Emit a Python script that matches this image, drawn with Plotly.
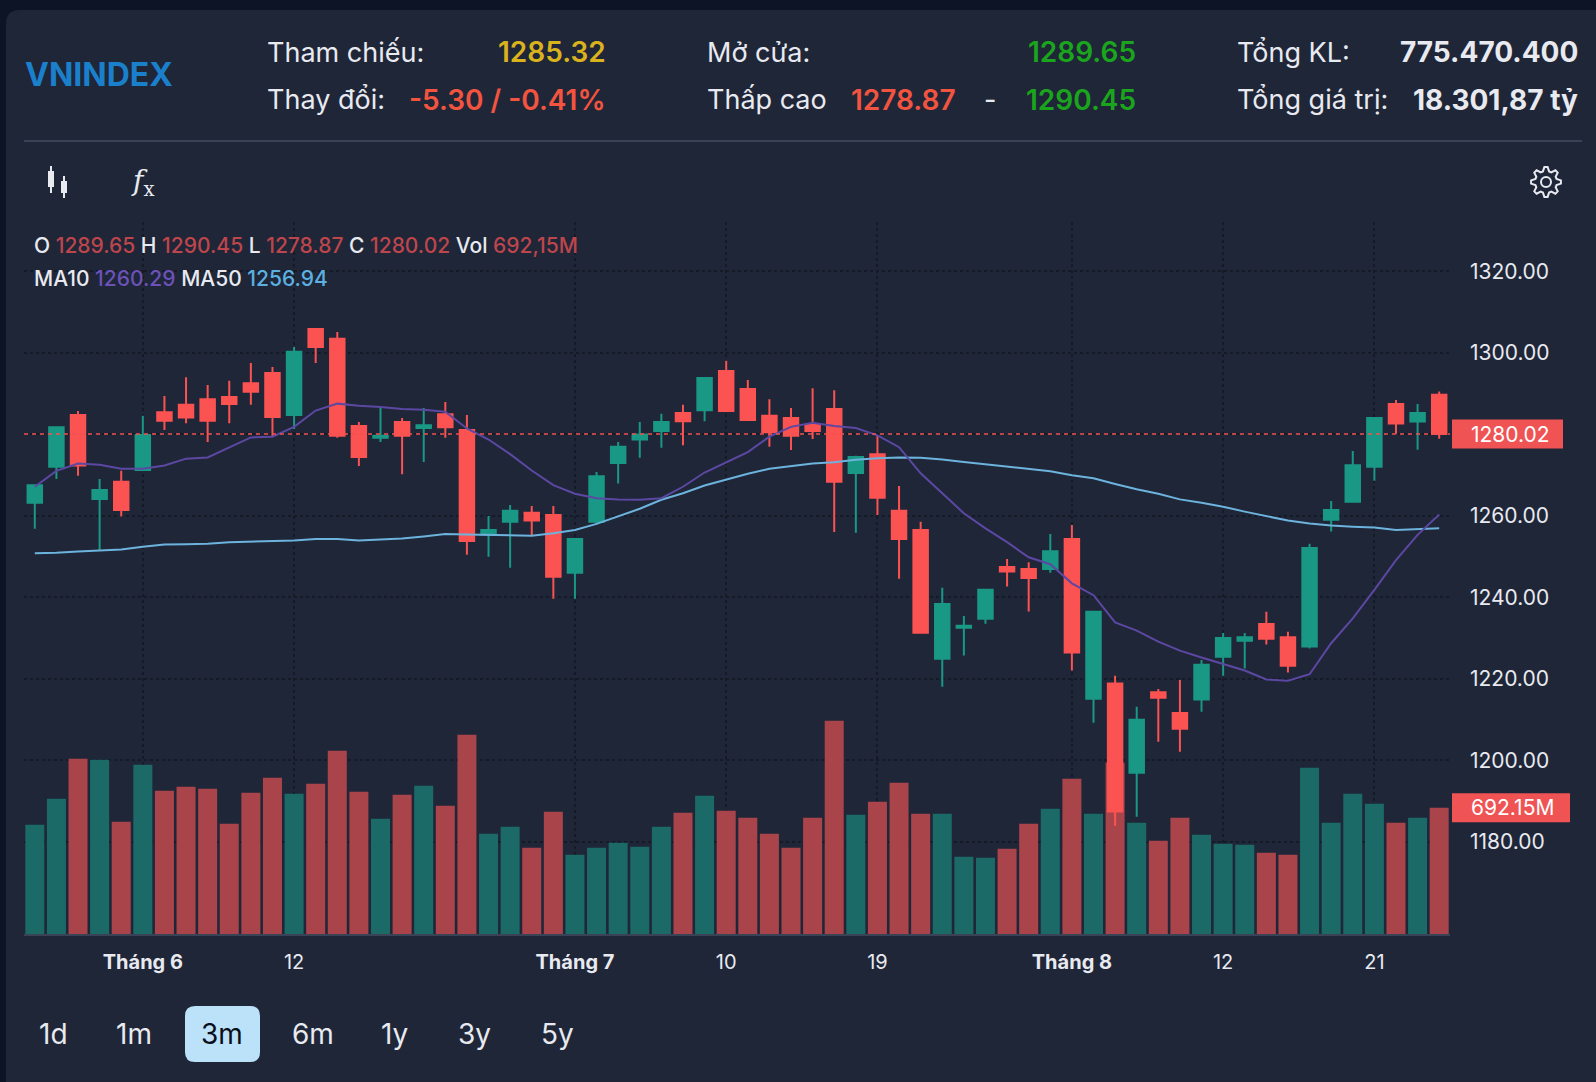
import math
import plotly.graph_objects as go

# ---- data ----
dates = [
    "2024-05-27", "2024-05-28", "2024-05-29", "2024-05-30", "2024-05-31",
    "2024-06-03", "2024-06-04", "2024-06-05", "2024-06-06", "2024-06-07",
    "2024-06-10", "2024-06-11", "2024-06-12", "2024-06-13", "2024-06-14",
    "2024-06-17", "2024-06-18", "2024-06-19", "2024-06-20", "2024-06-21",
    "2024-06-24", "2024-06-25", "2024-06-26", "2024-06-27", "2024-06-28",
    "2024-07-01", "2024-07-02", "2024-07-03", "2024-07-04", "2024-07-05",
    "2024-07-08", "2024-07-09", "2024-07-10", "2024-07-11", "2024-07-12",
    "2024-07-15", "2024-07-16", "2024-07-17", "2024-07-18", "2024-07-19",
    "2024-07-22", "2024-07-23", "2024-07-24", "2024-07-25", "2024-07-26",
    "2024-07-29", "2024-07-30", "2024-07-31", "2024-08-01", "2024-08-02",
    "2024-08-05", "2024-08-06", "2024-08-07", "2024-08-08", "2024-08-09",
    "2024-08-12", "2024-08-13", "2024-08-14", "2024-08-15", "2024-08-16",
    "2024-08-19", "2024-08-20", "2024-08-21", "2024-08-22", "2024-08-23",
    "2024-08-26",
]

opens = [1263.2, 1272.0, 1284.7, 1264.1, 1268.3, 1271.2, 1285.4, 1287.2, 1288.6, 1289.1,
         1292.5, 1295.0, 1284.7, 1305.8, 1303.4, 1282.0, 1279.1, 1283.0, 1281.5, 1284.9,
         1281.0, 1255.4, 1258.5, 1260.7, 1260.2, 1246.0, 1258.5, 1272.9, 1278.7, 1280.8,
         1285.2, 1285.9, 1295.5, 1291.1, 1284.5, 1284.0, 1282.3, 1286.2, 1270.5, 1275.1,
         1261.2, 1256.5, 1224.9, 1232.5, 1234.7, 1247.4, 1246.9, 1246.9, 1254.3, 1215.1,
         1218.8, 1196.9, 1216.7, 1211.6, 1214.9, 1225.4, 1229.3, 1233.4, 1230.2, 1227.9,
         1259.0, 1263.4, 1272.0, 1287.4, 1283.1, 1289.65]
highs = [1267.6, 1281.8, 1285.7, 1269.0, 1271.0, 1284.5, 1289.4, 1294.0, 1292.1, 1293.1,
         1297.5, 1296.5, 1301.4, 1305.9, 1305.1, 1283.0, 1286.4, 1284.0, 1286.4, 1287.9,
         1284.7, 1259.9, 1262.6, 1262.4, 1262.4, 1254.3, 1270.7, 1278.1, 1283.0, 1285.0,
         1287.2, 1294.0, 1298.0, 1293.3, 1288.6, 1286.4, 1291.3, 1290.8, 1274.7, 1279.7,
         1267.3, 1258.5, 1242.3, 1235.4, 1241.8, 1249.4, 1248.6, 1255.5, 1257.7, 1236.4,
         1220.7, 1213.1, 1217.5, 1219.7, 1224.6, 1231.2, 1231.2, 1236.4, 1231.5, 1253.1,
         1263.6, 1275.9, 1284.2, 1288.4, 1287.4, 1290.45]
lows = [1256.8, 1269.0, 1269.8, 1251.4, 1259.8, 1271.0, 1281.0, 1282.7, 1278.1, 1282.7,
        1287.2, 1279.3, 1281.3, 1297.5, 1279.1, 1272.2, 1278.1, 1270.2, 1273.2, 1279.1,
        1250.4, 1249.9, 1247.2, 1255.1, 1239.6, 1239.6, 1257.9, 1267.9, 1274.2, 1276.7,
        1277.3, 1283.2, 1285.6, 1283.4, 1276.9, 1276.1, 1278.8, 1256.0, 1255.8, 1260.2,
        1244.5, 1231.2, 1218.0, 1225.7, 1233.5, 1242.6, 1236.5, 1246.0, 1222.0, 1209.2,
        1183.9, 1186.1, 1204.5, 1202.1, 1211.9, 1220.7, 1222.5, 1228.4, 1221.5, 1227.4,
        1256.1, 1263.4, 1268.6, 1280.1, 1276.2, 1278.87]
closes = [1267.5, 1281.7, 1272.3, 1266.3, 1261.4, 1279.8, 1283.3, 1284.1, 1283.3, 1287.4,
          1290.4, 1284.2, 1300.2, 1301.4, 1279.6, 1274.4, 1279.6, 1279.6, 1282.2, 1281.7,
          1253.8, 1256.5, 1261.2, 1258.8, 1245.0, 1254.3, 1269.7, 1276.9, 1279.9, 1283.0,
          1283.2, 1293.8, 1285.7, 1283.5, 1280.5, 1279.6, 1280.8, 1268.3, 1274.4, 1264.4,
          1254.3, 1231.3, 1238.3, 1233.0, 1241.8, 1246.3, 1244.7, 1251.3, 1226.4, 1236.4,
          1187.4, 1209.9, 1215.3, 1207.7, 1223.4, 1230.0, 1230.2, 1229.8, 1223.2, 1252.1,
          1261.4, 1272.4, 1284.0, 1282.6, 1285.2, 1280.02]
# volume, millions of shares
volumes = [599.6, 742.2, 961.5, 956.0, 616.0, 928.6, 786.0, 808.0, 797.0, 605.1,
           775.1, 857.3, 769.6, 824.4, 1005.4, 780.6, 632.5, 764.1, 813.5, 703.8,
           1093.1, 550.2, 588.6, 473.5, 670.9, 435.1, 473.5, 500.9, 478.9, 588.6,
           665.4, 758.6, 676.4, 638.0, 550.2, 473.5, 638.0, 1169.9, 654.4, 725.7,
           829.9, 659.9, 659.9, 424.1, 418.6, 468.0, 605.1, 687.3, 851.8, 659.9,
           939.6, 610.6, 511.8, 638.0, 544.7, 495.4, 489.9, 446.0, 435.1, 912.2,
           610.6, 769.6, 714.7, 610.6, 638.0, 692.15]
ma10 = [1267.1, 1271.0, 1272.8, 1272.5, 1271.5, 1271.5, 1272.3, 1274.0, 1274.3, 1276.8,
        1279.2, 1279.4, 1281.8, 1285.8, 1287.5, 1287.0, 1286.7, 1286.2, 1286.0, 1285.5,
        1281.4, 1278.7, 1275.1, 1271.1, 1267.5, 1265.4, 1264.3, 1264.0, 1263.9, 1264.3,
        1267.1, 1270.6, 1273.1, 1275.6, 1279.4, 1281.8, 1282.8, 1282.0, 1281.5, 1279.7,
        1276.8, 1270.4, 1265.5, 1260.6, 1256.9, 1253.5, 1249.8, 1248.1, 1243.4, 1240.5,
        1233.8, 1231.8, 1229.1, 1226.9, 1225.2, 1223.6, 1222.0, 1219.8, 1219.5, 1221.1,
        1228.7, 1234.8, 1241.8, 1249.1, 1255.3, 1260.29]
ma50 = [1250.8, 1250.9, 1251.2, 1251.4, 1251.7, 1252.4, 1252.9, 1253.0, 1253.1, 1253.5,
        1253.6, 1253.7, 1253.9, 1254.3, 1254.3, 1253.9, 1254.1, 1254.4, 1254.9, 1255.5,
        1255.4, 1255.3, 1255.3, 1255.1, 1255.7, 1256.5, 1258.0, 1259.9, 1261.7, 1263.9,
        1265.5, 1267.4, 1268.9, 1270.3, 1271.5, 1272.2, 1272.8, 1273.1, 1273.7, 1274.1,
        1274.3, 1274.2, 1273.8, 1273.2, 1272.6, 1272.0, 1271.4, 1270.9, 1269.9, 1269.2,
        1267.8, 1266.5, 1265.4, 1264.0, 1263.2, 1262.2, 1261.0, 1259.9, 1258.8, 1258.1,
        1257.6, 1257.3, 1257.1, 1256.5, 1256.7, 1256.94]

tick_dates = ["2024-06-03", "2024-06-12", "2024-07-01", "2024-07-10",
              "2024-07-19", "2024-08-01", "2024-08-12", "2024-08-21"]
tick_text = ["<b>Tháng 6</b>", "12", "<b>Tháng 7</b>", "10",
             "19", "<b>Tháng 8</b>", "12", "21"]
price_ticks = [1180, 1200, 1220, 1240, 1260, 1280, 1300, 1320]

# header
ticker = "VNINDEX"
ref_price = "1285.32"
change_txt = "-5.30 / -0.41%"
open_price = "1289.65"
day_low = "1278.87"
day_high = "1290.45"
total_vol = "775.470.400"
total_val = "18.301,87 tỷ"
periods = ["1d", "1m", "3m", "6m", "1y", "3y", "5y"]
period_x = [53, 134, 222, 313, 395, 475, 557]
active_period = "3m"

# ---- colours ----
BG_OUT = "#0d1426"
BG = "#1f2638"
UP = "#1a9886"
DOWN = "#fb5252"
UP_VOL = "#1b6a68"
DOWN_VOL = "#a9444b"
TXT = "#e8eaf0"
GRID = "#151a27"

W, H = 1596, 1082
L, R, T, B = 24, 1450, 222, 934
PRICE_RANGE = [1157.35, 1332.07]
VOL_TOP = 3905


def px(x):
    return (x - L) / (R - L)


def py(y):
    return (B - y) / (B - T)


def rrect(x0, y0, x1, y1, r):
    """rounded rect path, pixel coords -> paper coords"""
    pts = [("M", x0 + r, y0), ("L", x1 - r, y0), ("Q", x1, y0, x1, y0 + r),
           ("L", x1, y1 - r), ("Q", x1, y1, x1 - r, y1), ("L", x0 + r, y1),
           ("Q", x0, y1, x0, y1 - r), ("L", x0, y0 + r), ("Q", x0, y0, x0 + r, y0)]
    s = ""
    for p in pts:
        if p[0] == "Q":
            s += "Q%.5f,%.5f %.5f,%.5f " % (px(p[1]), py(p[2]), px(p[3]), py(p[4]))
        else:
            s += "%s%.5f,%.5f " % (p[0], px(p[1]), py(p[2]))
    return s + "Z"


def gear(cx, cy, r_out, r_in, teeth):
    s = ""
    n = teeth * 2
    d = math.pi / n * 0.55
    for k in range(n):
        a = math.pi * k / teeth
        r = r_out if k % 2 == 0 else r_in
        for aa in (a - d, a + d):
            x = cx + r * math.cos(aa)
            y = cy + r * math.sin(aa)
            s += ("M" if s == "" else "L") + "%.5f,%.5f " % (px(x), py(y))
    return s + "Z"


vol_colors = [UP_VOL if c >= o else DOWN_VOL for o, c in zip(opens, closes)]

fig = go.Figure()

fig.add_trace(go.Bar(x=dates, y=volumes, marker=dict(color=vol_colors, line=dict(width=0)),
                     yaxis="y", showlegend=False, hoverinfo="skip"))
fig.add_trace(go.Candlestick(
    x=dates, open=opens, high=highs, low=lows, close=closes, yaxis="y2",
    increasing=dict(line=dict(color=UP, width=2), fillcolor=UP),
    decreasing=dict(line=dict(color=DOWN, width=2), fillcolor=DOWN),
    whiskerwidth=0, showlegend=False, hoverinfo="skip"))
fig.add_trace(go.Scatter(x=dates, y=ma50, mode="lines", yaxis="y2",
                         line=dict(color="#6cb3dd", width=2), showlegend=False, hoverinfo="skip"))
fig.add_trace(go.Scatter(x=dates, y=ma10, mode="lines", yaxis="y2",
                         line=dict(color="#5c48a2", width=2), showlegend=False, hoverinfo="skip"))

last_close = closes[-1]
last_vol = volumes[-1]
ph = 14.5 / ((B - T) / (PRICE_RANGE[1] - PRICE_RANGE[0]))
vh = 14.5 / ((B - T) / VOL_TOP)

shapes = [
    dict(type="path", path=rrect(6, 10, 1640, 1120, 14), xref="paper", yref="paper",
         fillcolor=BG, line=dict(width=0), layer="below"),
    dict(type="line", xref="paper", yref="paper", x0=px(24), x1=px(1582), y0=py(141), y1=py(141),
         line=dict(color="#394356", width=2)),
    dict(type="line", xref="paper", yref="y2", x0=0, x1=1, y0=last_close, y1=last_close,
         line=dict(color="#f25252", width=1.5, dash="4px,4px")),
    dict(type="rect", xref="paper", yref="y2", x0=px(1452), x1=px(1563),
         y0=last_close - ph, y1=last_close + ph, fillcolor="#f05353", line=dict(width=0)),
    dict(type="rect", xref="paper", yref="y", x0=px(1452), x1=px(1570),
         y0=last_vol - vh, y1=last_vol + vh, fillcolor="#f05353", line=dict(width=0)),
    # candle icon
    dict(type="line", xref="paper", yref="paper", x0=px(51), x1=px(51), y0=py(166), y1=py(193),
         line=dict(color=TXT, width=2)),
    dict(type="rect", xref="paper", yref="paper", x0=px(48), x1=px(54), y0=py(171), y1=py(187),
         fillcolor=TXT, line=dict(width=0)),
    dict(type="line", xref="paper", yref="paper", x0=px(64), x1=px(64), y0=py(176), y1=py(198),
         line=dict(color=TXT, width=2)),
    dict(type="rect", xref="paper", yref="paper", x0=px(61), x1=px(67), y0=py(181), y1=py(193),
         fillcolor=TXT, line=dict(width=0)),
    # gear
    dict(type="path", path=gear(1546, 182, 15, 11, 8), xref="paper", yref="paper",
         line=dict(color=TXT, width=2)),
    dict(type="circle", xref="paper", yref="paper", x0=px(1541), x1=px(1551), y0=py(187), y1=py(177),
         line=dict(color=TXT, width=2)),
    # active period button
    dict(type="path", path=rrect(185, 1006, 260, 1062, 10), xref="paper", yref="paper",
         fillcolor="#bce2fa", line=dict(width=0)),
]

F = "Inter, Roboto, sans-serif"


def ann(x, y, text, size, color=TXT, anchor="left", weight=None, family=F):
    font = dict(family=family, size=size, color=color)
    if weight:
        font["weight"] = weight
    return dict(x=px(x), y=py(y), xref="paper", yref="paper", text=text, showarrow=False,
                xanchor=anchor, yanchor="middle", font=font)


RED_H = "#f2543f"
GREEN_H = "#1ba51d"
annotations = [
    ann(23, 75, "<b>%s</b>" % ticker, 32, "#1b80cc"),
    ann(265, 52, "Tham chiếu:", 27),
    ann(608, 52, ref_price, 28, "#d9b21d", "right", 600),
    ann(265, 100, "Thay đổi:", 27),
    ann(608, 100, change_txt, 28, RED_H, "right", 600),
    ann(705, 52, "Mở cửa:", 27),
    ann(1138, 52, open_price, 28, GREEN_H, "right", 600),
    ann(705, 100, "Thấp cao", 27),
    ann(958, 100, day_low, 28, RED_H, "right", 600),
    ann(990, 100, "-", 27, TXT, "center"),
    ann(1138, 100, day_high, 28, GREEN_H, "right", 600),
    ann(1235, 52, "Tổng KL:", 27),
    ann(1580, 52, total_vol, 28, TXT, "right", 700),
    ann(1235, 100, "Tổng giá trị:", 27),
    ann(1580, 100, total_val, 28, TXT, "right", 700),
    ann(142, 182, "<i>f</i><sub>x</sub>", 28, TXT, "center", family="DejaVu Serif"),
]

vc = "#bd454c"
legend1 = ("O <span style='color:%s'>%.2f</span> H <span style='color:%s'>%.2f</span> "
           "L <span style='color:%s'>%.2f</span> C <span style='color:%s'>%.2f</span> "
           "Vol <span style='color:%s'>%s</span>") % (
    vc, opens[-1], vc, highs[-1], vc, lows[-1], vc, closes[-1], vc,
    ("%.2fM" % volumes[-1]).replace(".", ","))
legend2 = "MA10 <span style='color:#6b52b8'>%.2f</span> MA50 <span style='color:#5cb0e0'>%.2f</span>" % (
    ma10[-1], ma50[-1])
annotations += [ann(32, 246, legend1, 21, weight=500), ann(32, 278, legend2, 21, weight=500)]

annotations.append(dict(x=px(1469), y=last_close, xref="paper", yref="y2", text="%.2f" % last_close,
                        showarrow=False, xanchor="left", yanchor="middle",
                        font=dict(family=F, size=21, color="#ffffff")))
annotations.append(dict(x=px(1469), y=last_vol, xref="paper", yref="y", text="%.2fM" % last_vol,
                        showarrow=False, xanchor="left", yanchor="middle",
                        font=dict(family=F, size=21, color="#ffffff")))

for p, x in zip(periods, period_x):
    annotations.append(ann(x, 1034, p, 28, "#0b0f1a" if p == active_period else TXT, "center"))

fig.update_layout(
    width=W, height=H, autosize=False,
    margin=dict(l=L, r=W - R, t=T, b=H - B, pad=0),
    paper_bgcolor=BG_OUT, plot_bgcolor="rgba(0,0,0,0)",
    font=dict(family=F, color=TXT),
    hovermode=False, dragmode=False, showlegend=False,
    bargap=0.12, boxgap=0.33, boxgroupgap=0,
    xaxis=dict(type="category", range=[-0.5, len(dates) - 0.5],
               tickmode="array", tickvals=tick_dates, ticktext=tick_text,
               showgrid=True, gridcolor=GRID, gridwidth=2, griddash="3px,3px",
               showline=True, linecolor="#3a4256", linewidth=2, ticks="",
               tickfont=dict(size=20, color=TXT), ticklabelstandoff=9,
               rangeslider=dict(visible=False), fixedrange=True, zeroline=False),
    yaxis=dict(range=[0, VOL_TOP], visible=False, showgrid=False, fixedrange=True),
    yaxis2=dict(overlaying="y", side="right", range=PRICE_RANGE,
                tickmode="array", tickvals=price_ticks, tickformat=".2f",
                showgrid=True, gridcolor=GRID, gridwidth=2, griddash="3px,3px",
                showline=False, zeroline=False, ticks="", ticklabelstandoff=19,
                tickfont=dict(size=21, color=TXT), fixedrange=True),
    shapes=shapes, annotations=annotations,
)

fig.write_html("out.html", config=dict(displayModeBar=False, staticPlot=True),
               post_script="document.body.style.margin='0';document.body.style.overflow='hidden';")
